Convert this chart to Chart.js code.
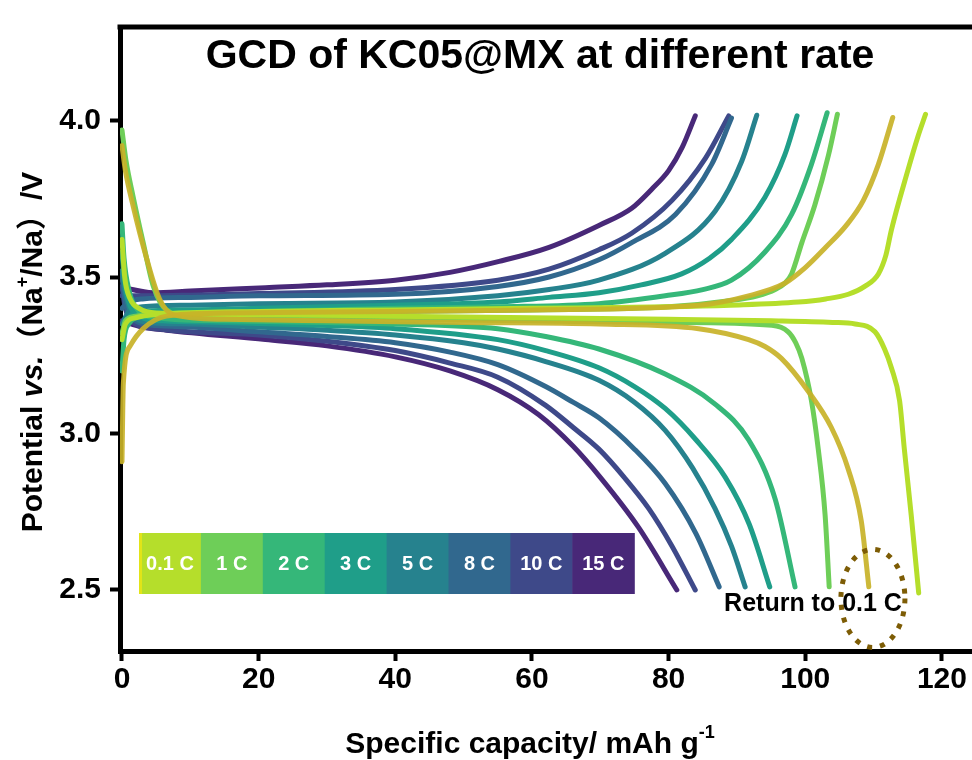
<!DOCTYPE html>
<html lang="en">
<head>
<meta charset="UTF-8">
<title>GCD of KC05@MX at different rate</title>
<script src="https://cdn.jsdelivr.net/npm/chart.js"></script>
<style>
  html, body { margin: 0; padding: 0; background: #fff; overflow: hidden; }
  #wrap { width: 972px; height: 760px; position: relative; }
</style>
</head>
<body>
<div id="wrap"><canvas id="gcd"></canvas></div>
<script>
// rates shown in the colour bar
const rates = ['0.1 C', '1 C', '2 C', '3 C', '5 C', '8 C', '10 C', '15 C'];
const rateColors = ['#b5de2b', '#6ece58', '#35b779', '#1f9e89', '#26828e', '#31688e', '#3e4989', '#482878'];
const returnColor = 'rgba(200, 178, 40, 0.92)';

const xTicks = [0, 20, 40, 60, 80, 100, 120];
const yTicks = [2.5, 3.0, 3.5, 4.0];

// [capacity mAh/g, potential V]
const chg01 = [[0,3.30],[0.5,3.35],[2,3.37],[5,3.38],[20,3.39],[40,3.395],[60,3.40],[80,3.405],[89,3.41],[99,3.42],[103,3.43],[106.3,3.445],[108.7,3.47],[110.7,3.51],[111.8,3.57],[112.6,3.65],[115,3.84],[116.5,3.95],[117.6,4.02]];
const dis01 = [[0,3.62],[0.4,3.50],[1.2,3.43],[2.5,3.40],[5,3.385],[20,3.38],[40,3.375],[60,3.37],[80,3.365],[95,3.36],[104,3.355],[107.3,3.35],[110.2,3.325],[111.6,3.27],[112.6,3.21],[113.8,3.105],[114.5,2.95],[115.5,2.74],[116.6,2.49]];

const chg1 = [[0,3.32],[0.5,3.36],[2,3.375],[5,3.38],[20,3.385],[40,3.39],[60,3.395],[80,3.405],[89.2,3.425],[93,3.44],[95.6,3.46],[97,3.48],[98,3.51],[99.5,3.61],[101.4,3.73],[103.4,3.89],[104.7,4.02]];
const dis1 = [[0,3.97],[0.6,3.87],[1.6,3.76],[3.1,3.61],[4.6,3.47],[6.5,3.395],[10,3.375],[20,3.37],[40,3.365],[60,3.36],[80,3.355],[95.1,3.346],[97.5,3.325],[98.6,3.29],[99.5,3.24],[100.9,3.105],[101.9,2.95],[102.9,2.74],[103.5,2.51]];

const chg2 = [[0,3.20],[0.3,3.30],[1,3.35],[3,3.375],[10,3.385],[20,3.39],[40,3.40],[55,3.405],[69.8,3.415],[79.5,3.44],[85,3.46],[89.2,3.49],[94.1,3.58],[98,3.70],[100.9,3.86],[103.2,4.025]];
const dis2 = [[0,3.67],[0.3,3.56],[1,3.46],[2.5,3.39],[5,3.37],[15,3.36],[30,3.355],[40,3.35],[55,3.335],[62,3.31],[69.8,3.27],[79.5,3.19],[86.8,3.094],[91.7,2.98],[95.6,2.79],[98.5,2.51]];

const chg3 = [[0,3.30],[1,3.37],[3,3.39],[10,3.395],[20,3.40],[40,3.41],[55,3.42],[62.5,3.435],[69.8,3.45],[76,3.475],[81.9,3.51],[86,3.56],[89.2,3.62],[94.1,3.755],[97,3.89],[98.8,4.015]];
const dis3 = [[0,3.58],[0.3,3.50],[1,3.42],[3,3.37],[6,3.36],[15,3.355],[30,3.345],[40,3.335],[55,3.30],[62,3.265],[69.8,3.21],[75,3.15],[79.5,3.08],[84,2.98],[88.3,2.86],[91.8,2.71],[94.8,2.51]];

const chg5 = [[0,3.35],[1,3.39],[3,3.405],[10,3.41],[20,3.415],[40,3.42],[55,3.44],[62.5,3.46],[69.8,3.49],[79.5,3.576],[86.8,3.71],[90.7,3.87],[92.9,4.017]];
const dis5 = [[0,3.52],[0.5,3.45],[1.5,3.38],[4,3.355],[10,3.35],[20,3.34],[30,3.33],[40,3.315],[50,3.29],[55,3.27],[62,3.23],[69.8,3.17],[75,3.10],[79.5,3.01],[83.5,2.89],[86.8,2.76],[89.2,2.64],[91.2,2.51]];

const chg8 = [[0,3.40],[1,3.42],[3,3.43],[10,3.435],[20,3.44],[40,3.445],[55,3.47],[62.5,3.50],[69.8,3.555],[74.6,3.61],[81,3.70],[86.3,3.86],[89.2,4.008]];
const dis8 = [[0,3.50],[0.5,3.42],[2,3.36],[5,3.345],[10,3.34],[20,3.325],[30,3.31],[40,3.29],[48,3.26],[55,3.22],[62,3.15],[66,3.10],[69.8,3.05],[75,2.95],[79.5,2.84],[84,2.68],[87.4,2.51]];

const chg10 = [[0,3.44],[4,3.44],[10,3.442],[20,3.447],[40,3.46],[55,3.49],[62.5,3.525],[69.8,3.587],[74.6,3.64],[80.5,3.745],[85.4,3.88],[88.8,4.015]];
const dis10 = [[0,3.47],[0.5,3.40],[2,3.35],[5,3.335],[10,3.325],[20,3.315],[30,3.295],[40,3.265],[48,3.225],[55,3.18],[62,3.09],[66,3.02],[69.8,2.95],[73.5,2.86],[77.1,2.76],[80.5,2.64],[83.9,2.50]];

const chg15 = [[0,3.467],[4.5,3.45],[10,3.455],[21,3.466],[30,3.475],[40,3.49],[48,3.515],[55.2,3.55],[62.5,3.595],[69.8,3.665],[74.6,3.72],[77.5,3.78],[80,3.84],[82,3.915],[83.9,4.015]];
const dis15 = [[0,3.36],[3,3.34],[6.5,3.33],[21,3.30],[30,3.28],[40,3.245],[48,3.20],[55,3.14],[61,3.06],[66,2.96],[70,2.86],[75.6,2.70],[81.2,2.50]];

const chgRet = [[0,2.91],[0.2,3.16],[1.2,3.28],[3.1,3.335],[6.5,3.375],[15,3.385],[40,3.39],[60,3.395],[84.4,3.41],[91.7,3.44],[97,3.48],[100,3.53],[103,3.595],[106,3.665],[108.5,3.745],[110.7,3.86],[112.8,4.01]];
const disRet = [[0,3.92],[0.5,3.84],[1.6,3.73],[3.6,3.56],[5.5,3.43],[7.5,3.38],[15,3.365],[30,3.36],[50,3.355],[69.8,3.35],[84.4,3.335],[91.7,3.30],[94.1,3.278],[96.5,3.24],[100.4,3.136],[103.8,3.02],[106.3,2.885],[108.2,2.72],[109.3,2.51]];

const curves = [
  [chg01, dis01], [chg1, dis1], [chg2, dis2], [chg3, dis3],
  [chg5, dis5], [chg8, dis8], [chg10, dis10], [chg15, dis15]
];

const FONT = 'Arial, "Liberation Sans", "Noto Sans CJK SC", sans-serif';

function line(points, color) {
  return {
    data: points.map(p => ({ x: p[0], y: p[1] })),
    showLine: true,
    borderColor: color,
    borderWidth: 5,
    borderCapStyle: 'round',
    borderJoinStyle: 'round',
    pointRadius: 0,
    cubicInterpolationMode: 'monotone',
    fill: false
  };
}

const datasets = [line(chgRet, returnColor), line(disRet, returnColor)];
curves.forEach((pair, i) => {
  datasets.push(line(pair[0], rateColors[i]));
  datasets.push(line(pair[1], rateColors[i]));
});

// draws runs of text with mixed styles, centred on (0,0)
function richText(ctx, parts) {
  let total = 0;
  parts.forEach(p => { ctx.font = p.font; p.w = ctx.measureText(p.t).width; total += p.w; });
  let cx = -total / 2;
  parts.forEach(p => {
    ctx.font = p.font;
    ctx.fillText(p.t, cx, p.dy || 0);
    cx += p.w;
  });
}

const decor = {
  id: 'decor',
  afterDatasetsDraw(chart) {
    const { ctx, scales: { x, y } } = chart;
    ctx.save();

    // colour bar legend
    const bx = 139, by = 533, bw = 61.9, bh = 61;
    ctx.textAlign = 'center';
    ctx.textBaseline = 'middle';
    rates.forEach((r, i) => {
      ctx.fillStyle = rateColors[i];
      ctx.fillRect(bx + i * bw, by, bw + 0.6, bh);
    });
    ctx.fillStyle = '#e2e418';
    ctx.fillRect(bx, by, 3, bh);
    ctx.fillStyle = '#fff';
    ctx.font = 'bold 20px ' + FONT;
    rates.forEach((r, i) => ctx.fillText(r, bx + i * bw + bw / 2, by + bh / 2 + 1));

    // dotted ring around the return curve end
    const ex = x.getPixelForValue(109.9), ey = y.getPixelForValue(2.473);
    ctx.setLineDash([5, 8]);
    ctx.lineWidth = 5;
    ctx.strokeStyle = '#7d5c05';
    ctx.beginPath();
    ctx.ellipse(ex, ey, 32, 49, 0, 0, Math.PI * 2);
    ctx.stroke();
    ctx.setLineDash([]);

    ctx.fillStyle = '#000';
    ctx.font = 'bold 25px ' + FONT;
    ctx.fillText('Return to 0.1 C', 813, 604);

    // title inside the frame
    ctx.font = 'bold 41px ' + FONT;
    ctx.fillText('GCD of KC05@MX at different rate', 540, 57);
    ctx.restore();
  },
  afterDraw(chart) {
    const { ctx, chartArea: a } = chart;
    ctx.save();
    // top frame line
    ctx.strokeStyle = '#000';
    ctx.lineWidth = 5;
    ctx.beginPath();
    ctx.moveTo(a.left - 2.5, a.top);
    ctx.lineTo(a.right, a.top);
    ctx.stroke();

    ctx.fillStyle = '#000';
    ctx.textBaseline = 'middle';
    ctx.textAlign = 'left';
    const b = 'bold 30px ' + FONT;
    // x axis title
    ctx.save();
    ctx.translate(530, 745);
    richText(ctx, [
      { t: 'Specific capacity/ mAh g', font: b },
      { t: '-1', font: 'bold 18px ' + FONT, dy: -12 }
    ]);
    ctx.restore();
    // y axis title
    ctx.save();
    ctx.translate(34, 352);
    ctx.rotate(-Math.PI / 2);
    richText(ctx, [
      { t: 'Potential ', font: b },
      { t: 'vs.', font: 'italic bold 30px ' + FONT },
      { t: '（Na', font: b },
      { t: '+', font: 'bold 18px ' + FONT, dy: -11 },
      { t: '/Na）/V', font: b }
    ]);
    ctx.restore();
    ctx.restore();
  }
};

new Chart(document.getElementById('gcd'), {
  type: 'scatter',
  data: { datasets: datasets },
  options: {
    responsive: true,
    maintainAspectRatio: false,
    animation: false,
    layout: { padding: { top: 17, right: 0, bottom: 0, left: 0 } },
    plugins: { legend: { display: false }, tooltip: { enabled: false } },
    scales: {
      x: {
        type: 'linear',
        min: -0.29,
        max: 124.4,
        afterBuildTicks: s => { s.ticks = xTicks.map(v => ({ value: v })); },
        afterFit: s => { s.height = 109; },
        border: { display: true, color: '#000', width: 5 },
        grid: { display: true, drawOnChartArea: false, drawTicks: true, tickLength: 10, tickWidth: 4, tickColor: '#000' },
        ticks: { color: '#000', padding: 1, maxRotation: 0, font: { family: FONT, size: 30, weight: 'bold' } }
      },
      y: {
        type: 'linear',
        min: 2.305,
        max: 4.299,
        afterBuildTicks: s => { s.ticks = yTicks.map(v => ({ value: v })); },
        afterFit: s => { s.width = 120; },
        border: { display: true, color: '#000', width: 5 },
        grid: { display: true, drawOnChartArea: false, drawTicks: true, tickLength: 10, tickWidth: 4, tickColor: '#000' },
        ticks: { color: '#000', padding: 9, font: { family: FONT, size: 30, weight: 'bold' }, callback: v => v.toFixed(1) }
      }
    }
  },
  plugins: [decor]
});
</script>
</body>
</html>
